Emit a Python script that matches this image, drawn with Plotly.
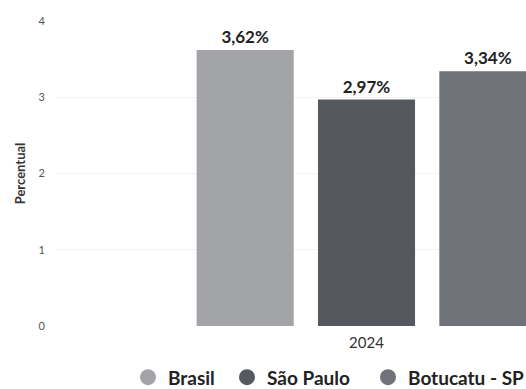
import plotly.graph_objects as go

categories = ["2024"]
series_names = ["Brasil", "São Paulo", "Botucatu - SP"]
brasil = [3.62]
sao_paulo = [2.97]
botucatu = [3.34]
value_labels = [["3,62%"], ["2,97%"], ["3,34%"]]
y_ticks = [0, 1, 2, 3, 4]

colors = ["#a2a4a8", "#55595f", "#6f7278"]
series_values = [brasil, sao_paulo, botucatu]
legend_ids = ["legend", "legend2", "legend3"]
legend_x = [128 / 526, 227 / 526, 368 / 526]
FONT = "Lato, 'Noto Sans', sans-serif"

fig = go.Figure()
for name, vals, col, lab in zip(series_names, series_values, colors, value_labels):
    fig.add_trace(go.Bar(
        x=categories, y=vals, name=name, marker=dict(color=col, line=dict(width=0)),
        text=lab, textposition="outside", cliponaxis=False,
        textfont=dict(family=FONT, size=17, color="#222222", weight="bold"),
        showlegend=False,
    ))
# legend entries with circle markers
for name, col, lid in zip(series_names, colors, legend_ids):
    fig.add_trace(go.Scatter(
        x=[None], y=[None], mode="markers", name=name,
        marker=dict(symbol="circle", size=18, color=col),
        showlegend=True, legend=lid,
    ))

legend_style = dict(orientation="h", xref="container", yref="container",
                    xanchor="left", y=0.03, yanchor="middle",
                    font=dict(family=FONT, size=19, color="#222222", weight="bold"),
                    itemwidth=30, bgcolor="rgba(0,0,0,0)")

fig.update_layout(
    width=526, height=389,
    margin=dict(l=56, r=0, t=21, b=63, autoexpand=False),
    paper_bgcolor="white", plot_bgcolor="white",
    barmode="group", bargap=0.2, bargroupgap=0.2,
    font=dict(family=FONT, color="#444444"),
    showlegend=True,
    legend=dict(x=legend_x[0], **legend_style),
    legend2=dict(x=legend_x[1], **legend_style),
    legend3=dict(x=legend_x[2], **legend_style),
)
fig.update_xaxes(
    type="category", range=[-0.6824, 0.3505], showgrid=False, zeroline=False,
    showline=False, ticks="", automargin=False, ticklabelstandoff=6,
    tickfont=dict(family=FONT, size=15, color="#333333"),
)
fig.update_yaxes(
    range=[0, 4], tickvals=y_ticks, ticktext=[str(t) for t in y_ticks],
    showgrid=True, gridcolor="#f3f3f3", gridwidth=1, zeroline=False,
    ticks="", automargin=False, ticklabelstandoff=10,
    tickfont=dict(family=FONT, size=11, color="#555555"),
    title=dict(text="Percentual", font=dict(family=FONT, size=13, color="#333333", weight="bold"), standoff=10),
)

fig.write_html("out.html", config={"displayModeBar": False},
               post_script="document.body.style.margin='0';document.body.style.overflow='hidden';")
